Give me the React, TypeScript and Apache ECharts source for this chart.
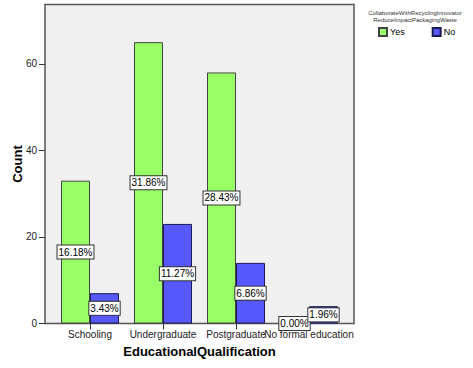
import React, { useEffect, useRef } from "react";
import * as echarts from "echarts";

const categories = ["Schooling", "Undergraduate", "Postgraduate", "No formal education"];
const yesValues = [33, 65, 58, 0];
const noValues = [7, 23, 14, 4];
const seriesNames = ["Yes", "No"];
const yTicks = [0, 20, 40, 60];
const legendTitle = "CollaborateWithRecyclingInnovator\nReduceImpactPackagingWaste";

const FONT = "'Liberation Sans', Arial, sans-serif";

export default function App() {
  const ref = useRef<HTMLDivElement>(null);
  useEffect(() => {
    if (!ref.current) return;
    const chart = echarts.init(ref.current, undefined, { renderer: "svg" });
    const total = [...yesValues, ...noValues].reduce((a, b) => a + b, 0);
    const label = {
      show: true,
      position: "inside",
      formatter: (p: any) => ((p.value / total) * 100).toFixed(2) + "%",
      fontFamily: FONT,
      fontSize: 10,
      color: "#000",
      backgroundColor: "#fff",
      borderColor: "#333",
      borderWidth: 1,
      padding: [2, 1, 1, 1],
    };
    chart.setOption({
      animation: false,
      backgroundColor: "#fff",
      textStyle: { fontFamily: FONT },
      title: {
        text: legendTitle,
        left: 410,
        top: 4,
        textAlign: "center",
        textStyle: { fontSize: 6, fontWeight: "normal", color: "#333", lineHeight: 7, fontFamily: FONT },
      },
      legend: {
        data: seriesNames,
        left: 373,
        top: 22,
        itemWidth: 8,
        itemHeight: 8,
        itemGap: 27,
        icon: "rect",
        textStyle: { fontSize: 9, color: "#000", fontFamily: FONT, padding: [0, 0, 0, -2] },
      },
      graphic: [
        {
          type: "rect",
          z: -10,
          silent: true,
          shape: { x: 45, y: 4.5, width: 309, height: 319 },
          style: { fill: "#f0f0f0", stroke: "#555", lineWidth: 1.5 },
        },
      ],
      grid: {
        left: 53.5,
        right: 127.5,
        top: 4.5,
        bottom: 44.5,
        containLabel: false,
        outerBoundsMode: "none",
      },
      xAxis: {
        type: "category",
        data: categories,
        name: "EducationalQualification",
        nameLocation: "middle",
        nameGap: 21,
        nameMoveOverlap: false,
        nameTextStyle: { fontSize: 13, fontWeight: "bold", color: "#000", fontFamily: FONT },
        axisLine: { show: false },
        axisTick: { show: true, alignWithLabel: true, length: 6, lineStyle: { color: "#333" } },
        axisLabel: { fontSize: 10, color: "#222", margin: 6, interval: 0, fontFamily: FONT },
        splitLine: { show: false },
      },
      yAxis: {
        type: "value",
        min: 0,
        max: 73.7,
        interval: 20,
        offset: 8.5,
        name: "Count",
        nameLocation: "middle",
        nameGap: 21,
        nameMoveOverlap: false,
        nameTextStyle: { fontSize: 13, fontWeight: "bold", color: "#000", fontFamily: FONT },
        axisLine: { show: false },
        axisTick: { show: true, length: 6, customValues: yTicks, lineStyle: { color: "#333" } },
        axisLabel: { fontSize: 10, color: "#222", margin: 8, customValues: yTicks, fontFamily: FONT },
        splitLine: { show: false },
      },
      series: [
        {
          name: seriesNames[0],
          type: "bar",
          data: yesValues,
          barWidth: 29,
          barGap: "0%",
          itemStyle: { color: "#99ff66", borderColor: "#444", borderWidth: 1 },
          label,
        },
        {
          name: seriesNames[1],
          type: "bar",
          data: noValues,
          barWidth: 29,
          barGap: "0%",
          itemStyle: { color: "#5858ff", borderColor: "#1a1a55", borderWidth: 1 },
          label,
        },
      ],
    });
    return () => chart.dispose();
  }, []);
  return (
    <div
      ref={ref}
      style={{ position: "fixed", left: 0, top: 0, width: 473, height: 368 }}
    />
  );
}
